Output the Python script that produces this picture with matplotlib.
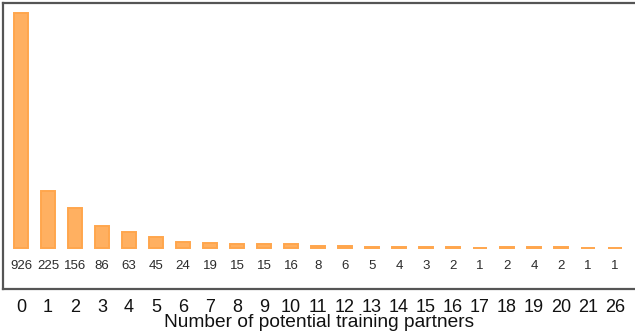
"""Bar chart: distribution of the number of potential training partners."""

import matplotlib
matplotlib.use("Agg")
import matplotlib.pyplot as plt

partners = ["0", "1", "2", "3", "4", "5", "6", "7", "8", "9", "10", "11",
            "12", "13", "14", "15", "16", "17", "18", "19", "20", "21", "26"]
counts = [926, 225, 156, 86, 63, 45, 24, 19, 15, 15, 16, 8,
          6, 5, 4, 3, 2, 1, 2, 4, 2, 1, 1]

plt.rcParams["font.family"] = ["Liberation Sans", "DejaVu Sans"]

fig = plt.figure(figsize=(6.35, 3.36), dpi=100)
ax = fig.add_axes([3 / 635, 1 - 289 / 336, 1 - 3 / 635, 286 / 336])

pos = list(range(len(partners)))
ax.bar(pos, counts, width=0.5, color="#ffb061", edgecolor="#ffa64d",
       linewidth=1.4)

# count under each bar, fixed distance above the frame
for x, c in zip(pos, counts):
    ax.text(x, 0.080, str(c), transform=ax.get_xaxis_transform(),
            ha="center", va="center", fontsize=9.5, color="#2b2b2b")

ax.set_xlim(-0.667, 22.74)
ax.set_ylim(-161.5, 965)
ax.set_xticks(pos)
ax.set_xticklabels(partners, fontsize=13, color="#111111")
ax.set_yticks([])
ax.tick_params(axis="x", length=0, pad=7)
ax.set_xlabel("Number of potential training partners", fontsize=13.8,
              color="#111111", labelpad=-1)

for side in ("left", "top", "bottom"):
    ax.spines[side].set_color("#555555")
    ax.spines[side].set_linewidth(1.6)
ax.spines["right"].set_visible(False)

fig.savefig("out.png", dpi=100)
plt.close(fig)
